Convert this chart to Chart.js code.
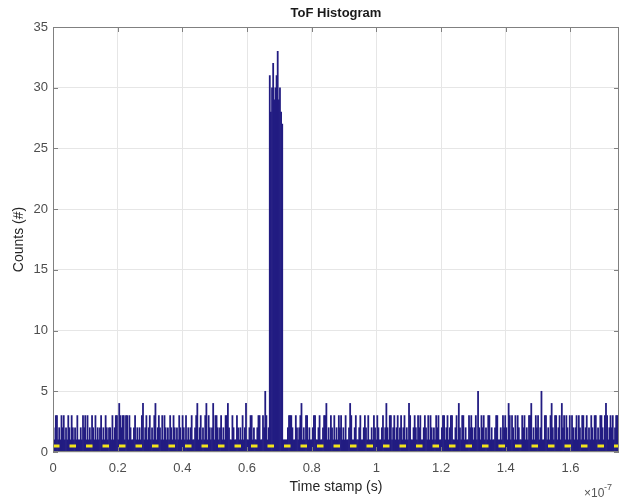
<!DOCTYPE html>
<html>
<head>
<meta charset="utf-8">
<script src="https://cdn.jsdelivr.net/npm/chart.js@4.4.1/dist/chart.umd.min.js"></script>
<style>
  html, body { margin: 0; padding: 0; background: #fff; }
  #wrap { width: 627px; height: 502px; }
</style>
</head>
<body>
<div id="wrap"><canvas id="tofChart" width="627" height="502"></canvas></div>
<script>
// time axis is in units of 1e-7 s
const binStart = 0;
const binWidth = 0.0035;

// counts per bin, 50 bins per row
const binCounts = [
  2,1,3,3,1,2,1,3,2,3, 1,2,1,3,2,1,3,2,1,2, 1,3,1,1,2,1,3,2,3,1, 3,1,2,1,3,2,1,3,1,2, 1,2,3,1,2,1,3,2,1,2,
  2,1,3,1,2,3,3,1,4,3, 2,3,3,1,3,3,1,3,2,1, 1,2,3,1,2,1,2,1,3,4, 1,2,3,1,2,3,1,2,1,3, 4,1,2,3,2,1,3,1,3,2,
  1,2,1,3,2,1,3,2,1,2, 1,3,2,1,3,2,1,3,1,2, 1,2,3,1,1,2,3,4,1,2, 3,1,2,1,3,4,1,3,2,1, 2,4,1,3,3,2,1,2,3,1,
  2,1,3,3,4,2,1,1,3,2, 1,1,3,2,1,2,1,3,1,2, 4,1,1,2,3,3,1,2,1,1, 2,3,3,1,1,3,2,5,3,1, 2,31,28,30,32,29,30,31,33,29,
  30,28,27,1,1,1,1,2,3,3, 3,2,1,1,3,2,1,2,3,4, 1,2,1,3,3,1,2,1,1,2, 3,3,1,1,2,3,1,1,2,3, 3,4,1,2,1,3,2,1,3,1,
  2,1,3,2,3,1,2,1,3,1, 1,2,4,3,1,1,2,3,1,1, 2,3,1,1,2,3,2,1,3,1, 1,2,1,3,2,1,3,2,1,1, 2,3,1,2,4,2,1,3,3,1,
  2,3,1,2,3,1,2,3,1,2, 3,1,2,1,4,3,1,1,2,3, 2,1,3,2,3,1,1,2,3,2, 1,3,1,3,2,1,2,1,3,2, 3,1,1,2,3,3,1,2,3,1,
  2,3,3,1,1,2,3,1,4,2, 1,3,3,1,2,1,1,3,2,3, 2,1,2,3,1,5,2,1,3,2, 3,1,2,1,3,3,1,2,1,1, 2,3,3,1,1,2,1,3,2,3,
  2,1,4,3,1,3,2,1,3,1, 3,2,1,1,3,2,3,1,2,1, 3,3,4,1,2,1,3,2,3,1, 2,5,1,1,3,3,1,2,1,3, 4,2,1,3,3,1,2,3,1,4,
  2,3,1,3,2,1,3,1,3,2, 1,2,3,1,3,2,1,3,3,1, 2,3,1,2,1,3,2,1,3,3, 1,2,1,3,3,2,1,3,4,3, 1,2,3,2,3,1,2,3,3,3
];

const thresholdLevel = 0.5;
const xRange = [0, 1.75];
const yRange = [0, 35];
const xTickValues = [0, 0.2, 0.4, 0.6, 0.8, 1, 1.2, 1.4, 1.6];
const yTickValues = [0, 5, 10, 15, 20, 25, 30, 35];
const plotTitle = 'ToF Histogram';
const xLabel = 'Time stamp (s)';
const yLabel = 'Counts (#)';
const xExponent = '-7';

const histPoints = binCounts.map((c, i) => ({ x: binStart + (i + 0.5) * binWidth, y: c }));
const thresholdPoints = [{ x: xRange[0], y: thresholdLevel }, { x: xRange[1], y: thresholdLevel }];

const FONT = '"Liberation Sans", Arial, sans-serif';

// box, inward tick marks, title and the x10^-7 multiplier
const axesFrame = {
  id: 'axesFrame',
  afterDatasetsDraw(chart) {
    const { ctx, chartArea: a, scales: { x, y } } = chart;
    ctx.save();
    ctx.strokeStyle = '#808080';
    ctx.lineWidth = 1;
    ctx.strokeRect(a.left + 0.5, a.top + 0.5, a.right - a.left - 1, a.bottom - a.top - 1);
    ctx.beginPath();
    xTickValues.forEach(v => {
      const px = Math.round(x.getPixelForValue(v)) + 0.5;
      ctx.moveTo(px, a.bottom); ctx.lineTo(px, a.bottom - 5);
      ctx.moveTo(px, a.top); ctx.lineTo(px, a.top + 5);
    });
    yTickValues.forEach(v => {
      const py = Math.round(y.getPixelForValue(v)) + 0.5;
      ctx.moveTo(a.left, py); ctx.lineTo(a.left + 5, py);
      ctx.moveTo(a.right, py); ctx.lineTo(a.right - 5, py);
    });
    ctx.stroke();

    ctx.fillStyle = '#1a1a1a';
    ctx.font = 'bold 13px ' + FONT;
    ctx.textAlign = 'center';
    ctx.textBaseline = 'middle';
    ctx.fillText(plotTitle, (a.left + a.right) / 2, 13);

    ctx.fillStyle = '#555';
    ctx.textAlign = 'left';
    ctx.font = '12px ' + FONT;
    ctx.fillText('\u00d710', 584, 494);
    ctx.font = '9px ' + FONT;
    ctx.fillText(xExponent, 604, 488);
    ctx.restore();
  }
};

new Chart(document.getElementById('tofChart'), {
  type: 'bar',
  data: {
    datasets: [
      {
        type: 'line',
        data: thresholdPoints,
        borderColor: '#f2e41c',
        borderWidth: 3,
        borderDash: [6.5, 10],
        pointRadius: 0,
        order: 0
      },
      {
        type: 'bar',
        data: histPoints,
        backgroundColor: '#221c82',
        borderWidth: 0,
        barPercentage: 1,
        categoryPercentage: 1,
        order: 1
      }
    ]
  },
  options: {
    responsive: false,
    animation: false,
    devicePixelRatio: 1,
    events: [],
    layout: { padding: { left: 8, right: 8, top: 27, bottom: 5 } },
    plugins: {
      legend: { display: false },
      tooltip: { enabled: false },
      title: { display: false }
    },
    scales: {
      x: {
        type: 'linear',
        min: xRange[0],
        max: xRange[1],
        offset: false,
        afterBuildTicks: s => { s.ticks = xTickValues.map(v => ({ value: v })); },
        afterFit: s => { s.height = 45; },
        grid: { color: '#e6e6e6', drawTicks: false, offset: false },
        border: { display: false },
        ticks: {
          padding: 9,
          color: '#4d4d4d',
          font: { family: FONT, size: 13 },
          maxRotation: 0,
          callback: v => String(+v.toFixed(1))
        },
        title: {
          display: true,
          text: xLabel,
          color: '#262626',
          font: { family: FONT, size: 14 },
          padding: { top: 0, bottom: 1 }
        }
      },
      y: {
        min: yRange[0],
        max: yRange[1],
        afterBuildTicks: s => { s.ticks = yTickValues.map(v => ({ value: v })); },
        afterFit: s => { s.width = 45; },
        grid: { color: '#e6e6e6', drawTicks: false },
        border: { display: false },
        ticks: {
          padding: 5,
          color: '#4d4d4d',
          font: { family: FONT, size: 13 }
        },
        title: {
          display: true,
          text: yLabel,
          color: '#262626',
          font: { family: FONT, size: 14 },
          padding: { top: 3, bottom: 0 }
        }
      }
    }
  },
  plugins: [axesFrame]
});
</script>
</body>
</html>
